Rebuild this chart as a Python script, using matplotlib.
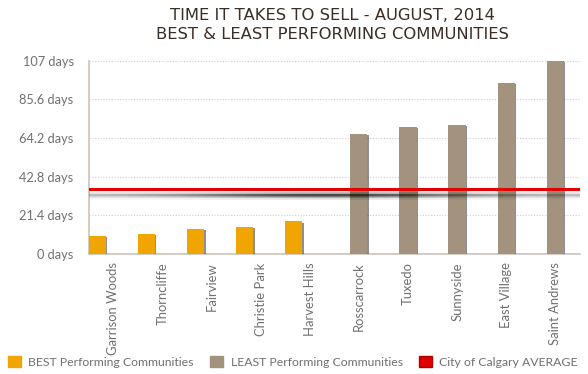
import numpy as np
import matplotlib
matplotlib.use('Agg')
import matplotlib.pyplot as plt
import matplotlib.patheffects as pe
from matplotlib.patches import Patch
from matplotlib.collections import LineCollection

best_names = ['Garrison Woods', 'Thorncliffe', 'Fairview', 'Christie Park', 'Harvest Hills']
best_days = [10, 11.2, 14, 15, 18]
least_names = ['Rosscarrock', 'Tuxedo', 'Sunnyside', 'East Village', 'Saint Andrews']
least_days = [66.3, 70.2, 71.5, 94.6, 107]
city_avg = 36
yticks = [0, 21.4, 42.8, 64.2, 85.6, 107]

best_col = '#f0a500'
least_col = '#a3937e'
avg_col = '#e00000'
txt_col = '#707070'

plt.rcParams['font.family'] = ['Lato', 'DejaVu Sans']

fig = plt.figure(figsize=(5.88, 3.74), dpi=100)
ax = fig.add_axes([0.151, 0.321, 0.835, 0.517])

names = best_names + least_names
x = np.arange(len(names))
shadow = [pe.SimplePatchShadow(offset=(1.2, -0.8), alpha=0.55, shadow_rgbFace='#333333'), pe.Normal()]

b1 = ax.bar(x[:5] - 0.33, best_days, width=0.35, color=best_col, zorder=3)
b2 = ax.bar(x[5:], least_days, width=0.35, color=least_col, zorder=3)
for b in list(b1) + list(b2):
    b.set_path_effects(shadow)

# blurred shadow under the average line
xs = np.linspace(-0.5, 9.5, 300)
env = np.exp(-((xs - 4.3) / 2.6) ** 2)
pts = np.column_stack([xs, np.full_like(xs, city_avg - 3.2)]).reshape(-1, 1, 2)
segs = np.concatenate([pts[:-1], pts[1:]], axis=1)
for lw, a in [(7, 0.10), (4.5, 0.18), (2.5, 0.35), (1.2, 0.5)]:
    cols = np.zeros((len(segs), 4))
    cols[:, 3] = a * (0.25 + 0.75 * env[:-1])
    ax.add_collection(LineCollection(segs, colors=cols, linewidths=lw, zorder=4))

ax.axhline(city_avg, color=avg_col, lw=2.2, zorder=5)

ax.set_xlim(-0.5, 9.5)
ax.set_ylim(0, 107)
ax.set_yticks(yticks)
ax.set_yticklabels([f'{t:g} days' for t in yticks], fontsize=9.2, color=txt_col)
ax.set_xticks(x)
ax.set_xticklabels(names, rotation=90, fontsize=9.4, color=txt_col)
ax.tick_params(axis='y', length=0, pad=11)
ax.tick_params(axis='x', length=0, pad=6)
ax.grid(axis='y', ls=(0, (1, 1.5)), color='#cfcfcf', lw=0.8, zorder=0)
for s in ['top', 'right']:
    ax.spines[s].set_visible(False)
for s in ['left', 'bottom']:
    ax.spines[s].set_color('#cbc3bb')
    ax.spines[s].set_linewidth(1.2)

fig.text(0.565, 0.958, 'TIME IT TAKES TO SELL - AUGUST, 2014', ha='center', va='center',
         fontsize=11.8, color='#3a2e26', family='DejaVu Sans')
fig.text(0.565, 0.908, 'BEST & LEAST PERFORMING COMMUNITIES', ha='center', va='center',
         fontsize=11.8, color='#3a2e26', family='DejaVu Sans')

handles = [Patch(color=best_col, label='BEST Performing Communities'),
           Patch(color=least_col, label='LEAST Performing Communities'),
           Patch(facecolor=avg_col, edgecolor='#b00000', label='City of Calgary AVERAGE')]
leg = fig.legend(handles=handles, loc='center', bbox_to_anchor=(0.498, 0.033), ncol=3, frameon=False,
                 fontsize=8.8, handlelength=1.1, handleheight=1.1, handletextpad=0.6, columnspacing=1.3,
                 borderpad=0.1)
for t in leg.get_texts():
    t.set_color(txt_col)

fig.savefig('out.png', dpi=100)
